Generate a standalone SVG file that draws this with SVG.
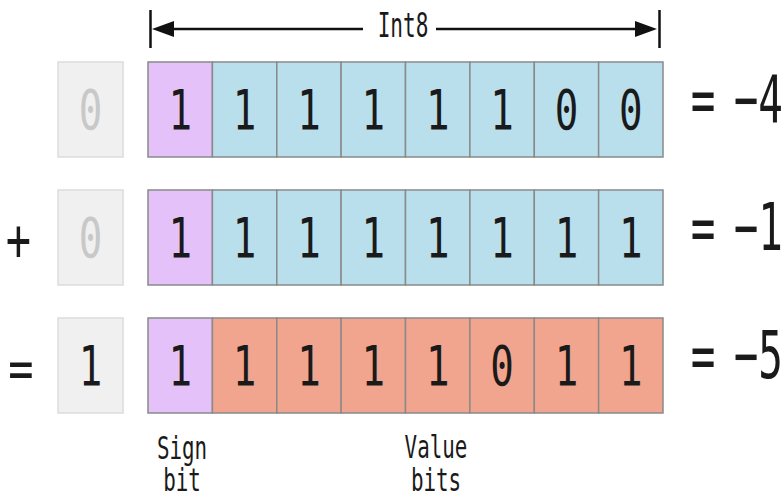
<svg xmlns="http://www.w3.org/2000/svg" width="784" height="499" viewBox="0 0 784 499">
<style>
text{font-family:"DejaVu Sans Mono","Liberation Mono",monospace;fill:#1a1a1a;text-anchor:middle}
.d{font-size:56px}
.r{font-size:66px;text-anchor:end}
.e{font-size:66px}
.s{font-size:31px}
.t{font-size:29px}
.g{fill:#f0f0f0;stroke:#dcdcdc;stroke-width:1.5}
.gt{fill:#c8c8c8}
.c{stroke:#8a8a8a;stroke-width:1.5}
.p{fill:#e4c1f9}
.b{fill:#b9dfec}
.o{fill:#f2a58e}
</style>
<rect width="784" height="499" fill="#fff"/>
<g id="connectors" stroke="#111" stroke-width="2.5" fill="#111">
<line x1="160" y1="29" x2="363" y2="29"/>
<line x1="436" y1="29" x2="650" y2="29"/>
<line x1="150.5" y1="10" x2="150.5" y2="48"/>
<line x1="659.5" y1="10" x2="659.5" y2="48"/>
<polygon points="152,29 174,21 174,37" stroke="none"/>
<polygon points="657,29 635,21 635,37" stroke="none"/>
</g>
<g id="label-int8"><text class="s" transform="translate(403,37) scale(0.68,1.06)">Int8</text></g>
<g id="row1">
<rect class="g" x="58" y="62" width="65" height="95"/>
<text class="d gt" transform="translate(90.5,129) scale(0.7,1)">0</text>
<g class="c">
<rect class="p" x="148" y="62" width="64.4" height="95"/>
<rect class="b" x="212.4" y="62" width="64.4" height="95"/>
<rect class="b" x="276.8" y="62" width="64.4" height="95"/>
<rect class="b" x="341.1" y="62" width="64.4" height="95"/>
<rect class="b" x="405.5" y="62" width="64.4" height="95"/>
<rect class="b" x="469.9" y="62" width="64.4" height="95"/>
<rect class="b" x="534.3" y="62" width="64.4" height="95"/>
<rect class="b" x="598.6" y="62" width="64.4" height="95"/>
</g>
<text class="d" transform="translate(180.2,129) scale(0.7,1)">1</text>
<text class="d" transform="translate(244.6,129) scale(0.7,1)">1</text>
<text class="d" transform="translate(309,129) scale(0.7,1)">1</text>
<text class="d" transform="translate(373.3,129) scale(0.7,1)">1</text>
<text class="d" transform="translate(437.7,129) scale(0.7,1)">1</text>
<text class="d" transform="translate(502.1,129) scale(0.7,1)">1</text>
<text class="d" transform="translate(566.5,129) scale(0.7,1)">0</text>
<text class="d" transform="translate(630.8,129) scale(0.7,1)">0</text>
<text class="e" transform="translate(703,122) scale(0.62,1)">=</text>
<text class="r" transform="translate(783,122) scale(0.62,1)">−4</text>
</g>
<g id="row2">
<text class="d" transform="translate(18.5,260) scale(0.75,1.05)">+</text>
<rect class="g" x="58" y="190" width="65" height="95"/>
<text class="d gt" transform="translate(90.5,257) scale(0.7,1)">0</text>
<g class="c">
<rect class="p" x="148" y="190" width="64.4" height="95"/>
<rect class="b" x="212.4" y="190" width="64.4" height="95"/>
<rect class="b" x="276.8" y="190" width="64.4" height="95"/>
<rect class="b" x="341.1" y="190" width="64.4" height="95"/>
<rect class="b" x="405.5" y="190" width="64.4" height="95"/>
<rect class="b" x="469.9" y="190" width="64.4" height="95"/>
<rect class="b" x="534.3" y="190" width="64.4" height="95"/>
<rect class="b" x="598.6" y="190" width="64.4" height="95"/>
</g>
<text class="d" transform="translate(180.2,257) scale(0.7,1)">1</text>
<text class="d" transform="translate(244.6,257) scale(0.7,1)">1</text>
<text class="d" transform="translate(309,257) scale(0.7,1)">1</text>
<text class="d" transform="translate(373.3,257) scale(0.7,1)">1</text>
<text class="d" transform="translate(437.7,257) scale(0.7,1)">1</text>
<text class="d" transform="translate(502.1,257) scale(0.7,1)">1</text>
<text class="d" transform="translate(566.5,257) scale(0.7,1)">1</text>
<text class="d" transform="translate(630.8,257) scale(0.7,1)">1</text>
<text class="e" transform="translate(703,250) scale(0.62,1)">=</text>
<text class="r" transform="translate(783,250) scale(0.62,1)">−1</text>
</g>
<g id="row3">
<text class="d" transform="translate(21,388) scale(0.75,1)">=</text>
<rect class="g" x="58" y="318" width="65" height="95"/>
<text class="d" transform="translate(90.5,385) scale(0.7,1)">1</text>
<g class="c">
<rect class="p" x="148" y="318" width="64.4" height="95"/>
<rect class="o" x="212.4" y="318" width="64.4" height="95"/>
<rect class="o" x="276.8" y="318" width="64.4" height="95"/>
<rect class="o" x="341.1" y="318" width="64.4" height="95"/>
<rect class="o" x="405.5" y="318" width="64.4" height="95"/>
<rect class="o" x="469.9" y="318" width="64.4" height="95"/>
<rect class="o" x="534.3" y="318" width="64.4" height="95"/>
<rect class="o" x="598.6" y="318" width="64.4" height="95"/>
</g>
<text class="d" transform="translate(180.2,385) scale(0.7,1)">1</text>
<text class="d" transform="translate(244.6,385) scale(0.7,1)">1</text>
<text class="d" transform="translate(309,385) scale(0.7,1)">1</text>
<text class="d" transform="translate(373.3,385) scale(0.7,1)">1</text>
<text class="d" transform="translate(437.7,385) scale(0.7,1)">1</text>
<text class="d" transform="translate(502.1,385) scale(0.7,1)">0</text>
<text class="d" transform="translate(566.5,385) scale(0.7,1)">1</text>
<text class="d" transform="translate(630.8,385) scale(0.7,1)">1</text>
<text class="e" transform="translate(703,378) scale(0.62,1)">=</text>
<text class="r" transform="translate(783,378) scale(0.62,1)">−5</text>
</g>
<g id="label-sign">
<text class="t" transform="translate(182,459) scale(0.72,1.1)">Sign</text>
<text class="t" transform="translate(182,491) scale(0.72,1.1)">bit</text>
</g>
<g id="label-value">
<text class="t" transform="translate(436,458) scale(0.72,1.1)">Value</text>
<text class="t" transform="translate(436,491) scale(0.72,1.1)">bits</text>
</g>
</svg>
